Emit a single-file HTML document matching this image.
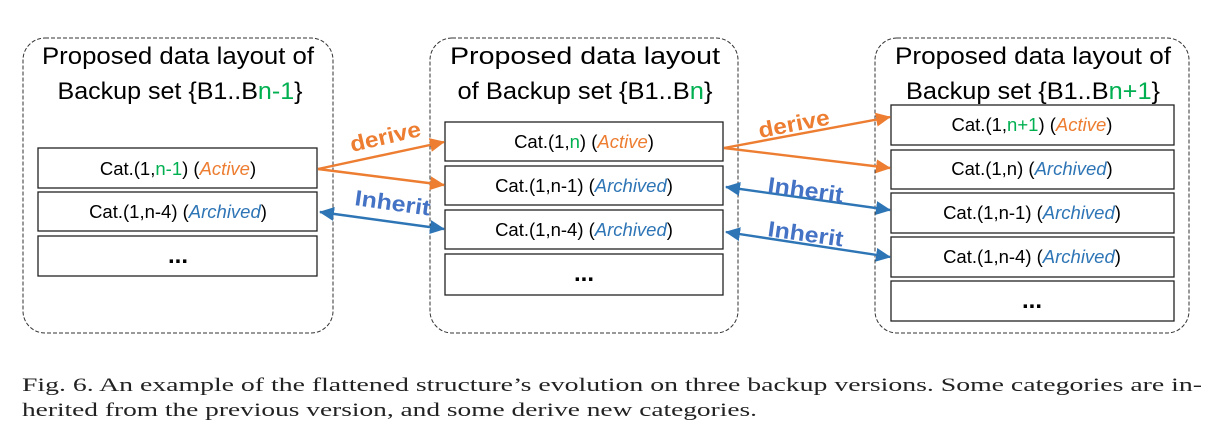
<!DOCTYPE html>
<html><head><meta charset="utf-8"><style>
html,body{margin:0;padding:0;background:#fff;}
svg{display:block;}
.t{font-family:"Liberation Sans",sans-serif;fill:#000;}
.c{font-family:"Liberation Sans",sans-serif;font-size:18.5px;fill:#000;}
.o{fill:#ed7d31;font-style:italic;}
.b{fill:#2e75b6;font-style:italic;}
.g{fill:#00b050;}
.cap{font-family:"Liberation Serif",serif;font-size:19px;fill:#222;}
</style></head><body>
<svg width="1229" height="434" viewBox="0 0 1229 434" xmlns="http://www.w3.org/2000/svg">
<defs>
<marker id="ao" markerWidth="15" markerHeight="14" refX="14" refY="7" orient="auto" markerUnits="userSpaceOnUse"><path d="M0,0 L15,7 L0,14 z" fill="#ed7d31"/></marker>
<marker id="ab" markerWidth="15" markerHeight="14" refX="14" refY="7" orient="auto" markerUnits="userSpaceOnUse"><path d="M0,0 L15,7 L0,14 z" fill="#2e75b6"/></marker>
<marker id="abs" markerWidth="15" markerHeight="14" refX="1" refY="7" orient="auto" markerUnits="userSpaceOnUse"><path d="M15,0 L0,7 L15,14 z" fill="#2e75b6"/></marker>
</defs>
<g fill="none" stroke="#333" stroke-dasharray="4,2" stroke-width="1">
<rect x="23" y="38" width="310" height="295" rx="22"/>
<rect x="430" y="38" width="308" height="295" rx="22"/>
<rect x="875" y="38" width="314" height="295" rx="22"/>
</g>
<g class="t" font-size="24" text-anchor="middle">
<text x="178" y="64" textLength="272" lengthAdjust="spacingAndGlyphs">Proposed data layout of</text>
<text x="180" y="99" textLength="245" lengthAdjust="spacingAndGlyphs">Backup set {B1..B<tspan class="g">n-1</tspan>}</text>
<text x="585" y="64" textLength="270" lengthAdjust="spacingAndGlyphs">Proposed  data layout</text>
<text x="585" y="99" textLength="255" lengthAdjust="spacingAndGlyphs">of Backup set {B1..B<tspan class="g">n</tspan>}</text>
<text x="1033" y="64" textLength="276" lengthAdjust="spacingAndGlyphs">Proposed data layout of</text>
<text x="1033" y="99" textLength="254" lengthAdjust="spacingAndGlyphs">Backup set {B1..B<tspan class="g">n+1</tspan>}</text>
</g>
<g fill="#fff" stroke="#222" stroke-width="1.3">
<rect x="38" y="148" width="279" height="40"/>
<rect x="38" y="192" width="279" height="39"/>
<rect x="38" y="236" width="279" height="40"/>
<rect x="445" y="122" width="278" height="39"/>
<rect x="445" y="166" width="278" height="39"/>
<rect x="445" y="210" width="278" height="39"/>
<rect x="445" y="254" width="278" height="41"/>
<rect x="891" y="105" width="283" height="40"/>
<rect x="891" y="150" width="283" height="39"/>
<rect x="891" y="193" width="283" height="40"/>
<rect x="891" y="237" width="283" height="40"/>
<rect x="891" y="281" width="283" height="40"/>
</g>
<g class="c" text-anchor="middle">
<text x="178" y="175">Cat.(1,<tspan class="g">n-1</tspan>) (<tspan class="o">Active</tspan>)</text>
<text x="178" y="218">Cat.(1,n-4) (<tspan class="b">Archived</tspan>)</text>
<text x="178" y="263" font-weight="bold" font-size="24">...</text>
<text x="584" y="148">Cat.(1,<tspan class="g">n</tspan>) (<tspan class="o">Active</tspan>)</text>
<text x="584" y="192">Cat.(1,n-1) (<tspan class="b">Archived</tspan>)</text>
<text x="584" y="236">Cat.(1,n-4) (<tspan class="b">Archived</tspan>)</text>
<text x="584" y="281" font-weight="bold" font-size="24">...</text>
<text x="1032" y="131">Cat.(1,<tspan class="g">n+1</tspan>) (<tspan class="o">Active</tspan>)</text>
<text x="1032" y="175">Cat.(1,n) (<tspan class="b">Archived</tspan>)</text>
<text x="1032" y="219">Cat.(1,n-1) (<tspan class="b">Archived</tspan>)</text>
<text x="1032" y="263">Cat.(1,n-4) (<tspan class="b">Archived</tspan>)</text>
<text x="1032" y="308" font-weight="bold" font-size="24">...</text>
</g>
<g stroke-width="2.4" fill="none">
<line x1="318" y1="169" x2="444" y2="142" stroke="#ed7d31" marker-end="url(#ao)"/>
<line x1="318" y1="169" x2="444" y2="185" stroke="#ed7d31" marker-end="url(#ao)"/>
<line x1="320" y1="212" x2="444" y2="229" stroke="#2e75b6" marker-end="url(#ab)" marker-start="url(#abs)"/>
<line x1="724" y1="148" x2="890" y2="117" stroke="#ed7d31" marker-end="url(#ao)"/>
<line x1="724" y1="148" x2="890" y2="168" stroke="#ed7d31" marker-end="url(#ao)"/>
<line x1="726" y1="187" x2="890" y2="210" stroke="#2e75b6" marker-end="url(#ab)" marker-start="url(#abs)"/>
<line x1="726" y1="232" x2="890" y2="257" stroke="#2e75b6" marker-end="url(#ab)" marker-start="url(#abs)"/>
</g>
<g font-family="Liberation Sans,sans-serif" font-weight="bold" font-size="22">
<text transform="translate(352,152) rotate(-13)" fill="#ed7d31" textLength="72" lengthAdjust="spacingAndGlyphs">derive</text>
<text transform="translate(354,205) rotate(8)" fill="#4472c4" textLength="76" lengthAdjust="spacingAndGlyphs">Inherit</text>
<text transform="translate(760,138) rotate(-11)" fill="#ed7d31" textLength="72" lengthAdjust="spacingAndGlyphs">derive</text>
<text transform="translate(767,192) rotate(8)" fill="#4472c4" textLength="76" lengthAdjust="spacingAndGlyphs">Inherit</text>
<text transform="translate(767,236) rotate(8)" fill="#4472c4" textLength="76" lengthAdjust="spacingAndGlyphs">Inherit</text>
</g>
<text class="cap" x="22" y="391" textLength="1180" lengthAdjust="spacingAndGlyphs">Fig. 6.  An example of the flattened structure’s evolution on three backup versions. Some categories are in-</text>
<text class="cap" x="22" y="416" textLength="735" lengthAdjust="spacingAndGlyphs">herited from the previous version, and some derive new categories.</text>
</svg>
</body></html>
